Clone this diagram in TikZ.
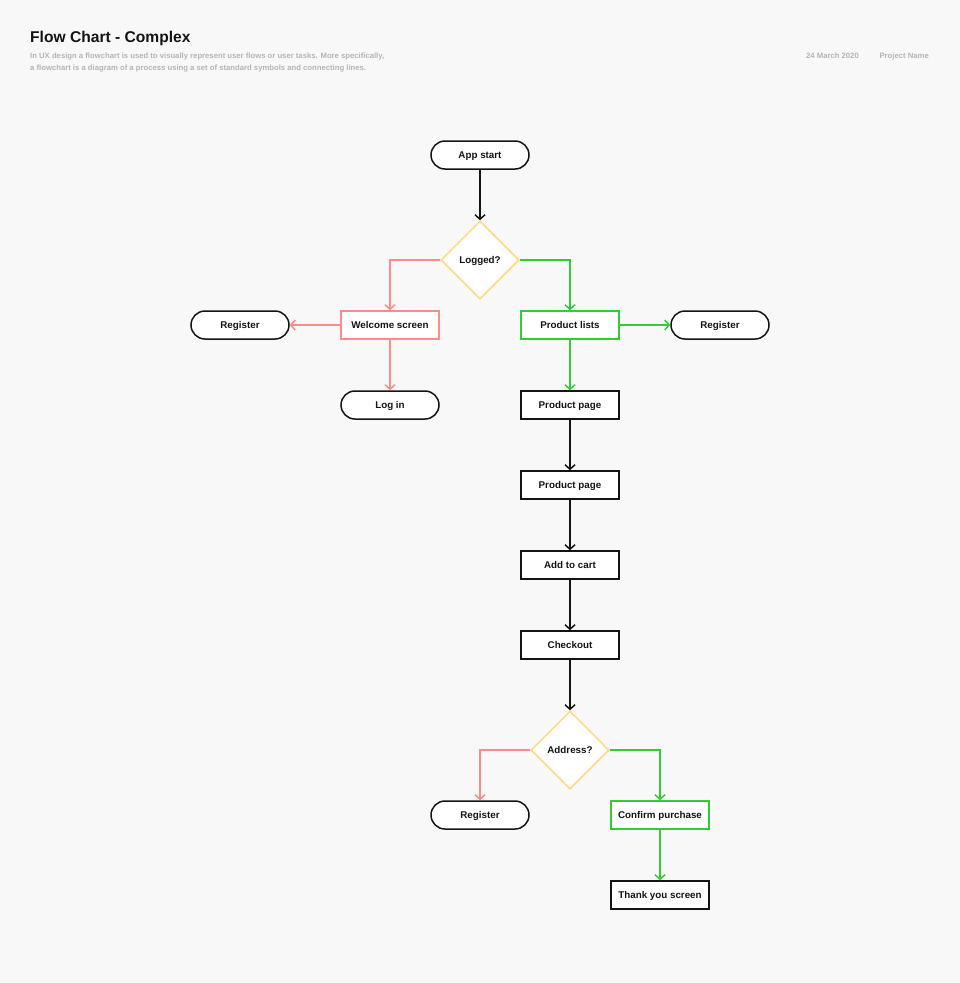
\documentclass[tikz,border=0pt]{standalone}
\usepackage{fontspec}
\setmainfont{Liberation Sans}
\usetikzlibrary{shapes.geometric,arrows.meta}
\definecolor{bg}{HTML}{F8F8F8}
\definecolor{ink}{HTML}{141414}
\definecolor{pinkc}{HTML}{FF8A8A}
\definecolor{greenc}{HTML}{33CC33}
\definecolor{yellowc}{HTML}{FFD97A}
\definecolor{greyc}{HTML}{B4B4B4}
\tikzset{
  x=1pt, y=-1pt,
  base/.style={font=\fontsize{9.8}{11}\selectfont\bfseries, text=ink, fill=white, line width=1.5pt, minimum width=98pt, minimum height=28pt, inner sep=0pt, text height=7pt, text depth=0pt},
  pill/.style={base, draw=ink, rounded corners=14pt},
  boxk/.style={base, draw=ink},
  boxp/.style={base, draw=pinkc},
  boxg/.style={base, draw=greenc},
  decision/.style={base, diamond, draw=yellowc, minimum width=78pt, minimum height=78pt, aspect=1},
  tip/.style={-{Straight Barb[length=4.5pt,width=10pt]}},
  ck/.style={tip, draw=ink, line width=1.5pt},
  cp/.style={tip, draw=pinkc, line width=1.5pt},
  cg/.style={tip, draw=greenc, line width=1.5pt},
  meta/.style={inner sep=0pt, font=\fontsize{7.7}{9}\selectfont\bfseries, text=greyc},
}
\begin{document}
\begin{tikzpicture}
\fill[bg] (0,0) rectangle (960,983);
\useasboundingbox (0,0) rectangle (960,983);
% header
\node[anchor=base west, inner sep=0pt, font=\fontsize{15.6}{16}\selectfont\bfseries, text=ink] (title) at (30,42) {Flow Chart - Complex};
\node[meta, anchor=base west] (desc1) at (30,58.5) {In UX design a flowchart is used to visually represent user flows or user tasks. More specifically,};
\node[meta, anchor=base west] (desc2) at (30,70.5) {a flowchart is a diagram of a process using a set of standard symbols and connecting lines.};
\node[meta, anchor=base east] (date) at (859,58.5) {24 March 2020};
\node[meta, anchor=base east] (proj) at (929,58.5) {Project Name};
% nodes
\node[pill] (start) at (480,155) {App start};
\node[decision] (logged) at (480,260) {Logged?};
\node[boxp] (welcome) at (390,325) {Welcome screen};
\node[pill] (regL) at (240,325) {Register};
\node[pill] (login) at (390,405) {Log in};
\node[boxg] (plist) at (570,325) {Product lists};
\node[pill] (regR) at (720,325) {Register};
\node[boxk] (pp1) at (570,405) {Product page};
\node[boxk] (pp2) at (570,485) {Product page};
\node[boxk] (cart) at (570,565) {Add to cart};
\node[boxk] (check) at (570,645) {Checkout};
\node[decision] (addr) at (570,750) {Address?};
\node[pill] (regB) at (480,815) {Register};
\node[boxg] (confirm) at (660,815) {Confirm purchase};
\node[boxk] (thanks) at (660,895) {Thank you screen};
% connectors
\draw[ck] (start) -- (logged);
\draw[cp] (logged.west) -| (welcome.north);
\draw[cg] (logged.east) -| (plist.north);
\draw[cp] (welcome) -- (regL);
\draw[cp] (welcome) -- (login);
\draw[cg] (plist) -- (regR);
\draw[cg] (plist) -- (pp1);
\draw[ck] (pp1) -- (pp2);
\draw[ck] (pp2) -- (cart);
\draw[ck] (cart) -- (check);
\draw[ck] (check) -- (addr);
\draw[cp] (addr.west) -| (regB.north);
\draw[cg] (addr.east) -| (confirm.north);
\draw[cg] (confirm) -- (thanks);
\end{tikzpicture}
\end{document}
